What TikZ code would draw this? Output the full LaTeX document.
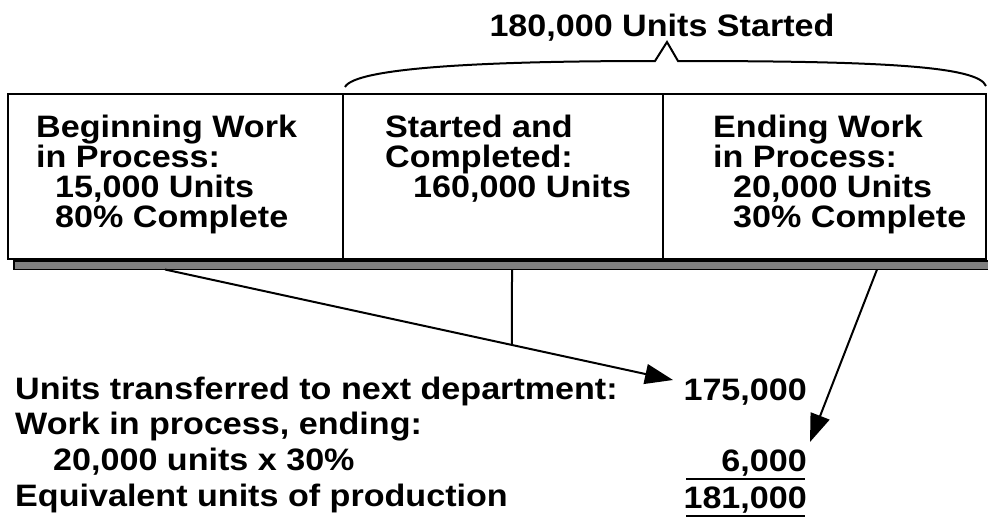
\documentclass[tikz,border=0pt]{standalone}
\usepackage{fontspec}
\setmainfont{Liberation Sans}[FakeStretch=1.1]
\usepackage{tikz}
\usetikzlibrary{arrows.meta, positioning, calc}
\definecolor{shadowgray}{rgb}{0.5,0.5,0.5}

\tikzset{
	boxtext/.style={anchor=base west, align=left, inner sep=0pt, font=\bfseries\fontsize{31}{30}\selectfont},
	listtext/.style={anchor=base west, align=left, inner sep=0pt, font=\bfseries\fontsize{31}{35.9}\selectfont},
	numtext/.style={anchor=base east, inner sep=0pt, font=\bfseries\fontsize{31}{36}\selectfont},
	link/.style={line width=2pt},
	arrowlink/.style={line width=2pt, -{Triangle[length=28pt,width=20pt]}},
}

\begin{document}
\begin{tikzpicture}[x=1pt, y=-1pt]
	\useasboundingbox (0,0) rectangle (988,520);
	\pgfmathsetmacro{\boxtop}{94}
	\pgfmathsetmacro{\boxbot}{258.5}
	% shadow under the box
	\draw[line width=1.4pt, fill=shadowgray] (14,\boxbot+2.5) rectangle (995,269.5);
	\draw[line width=2pt, fill=white] (7.5,\boxtop) rectangle (986,\boxbot);
	\draw[line width=2pt] (343,\boxtop) -- (343,\boxbot);
	\draw[line width=2pt] (662.5,\boxtop) -- (662.5,\boxbot);
	% brace over the started units
	\draw[line width=2pt] (345,87) .. controls (355,68) and (480,61) .. (655,61) -- (667,42) -- (678,61) .. controls (880,61) and (978,66) .. (986,86);
	\node[boxtext, anchor=base] (started) at (662,36.7) {180,000 Units Started};

	% multi-line nodes sit on the baseline of their last line
	\node[boxtext] (begwip) at (36,227) {Beginning Work\\in Process:\\\hspace*{19pt}15,000 Units\\\hspace*{19pt}80\% Complete};
	\node[boxtext] (stacomp) at (385,197) {Started and\\Completed:\\\hspace*{28pt}160,000 Units};
	\node[boxtext] (endwip) at (713,227) {Ending Work\\in Process:\\\hspace*{20pt}20,000 Units\\\hspace*{20pt}30\% Complete};

	\node[listtext] (summary) at (15,506.7) {Units transferred to next department:\\Work in process, ending:\\\hspace*{38pt}20,000 units x 30\%\\Equivalent units of production};
	\node[numtext] (transferred) at (807,400.7) {175,000};
	\node[numtext] (ending) at (807,471.7) {6,000};
	\node[numtext] (equiv) at (807,508) {181,000};
	\draw[line width=2pt] (686,479) -- (805,479);
	\draw[line width=2pt] (686,515.7) -- (805,515.7);

	\coordinate (begfoot) at (165,269.5);
	\coordinate (midfoot) at (512,269.5);
	\coordinate (endfoot) at (877,269.5);
	\coordinate (transtip) at (673,380);
	\coordinate (endtip) at (810,442);
	\draw[arrowlink] (begfoot) -- (transtip);
	\draw[link] (midfoot) -- ($(begfoot)!0.683!(transtip)$);
	\draw[arrowlink] (endfoot) -- (endtip);
\end{tikzpicture}
\end{document}
